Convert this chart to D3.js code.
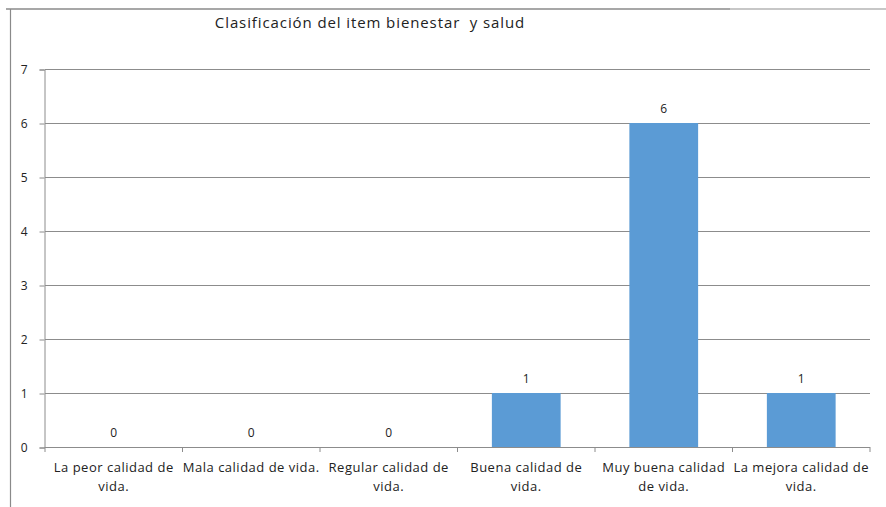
<!DOCTYPE html>
<html>
<head>
<meta charset="utf-8">
<script src="https://cdn.jsdelivr.net/npm/d3@7"></script>
<style>
  body { margin: 0; background: #fff; }
  text { font-family: "Open Sans", "Noto Sans", sans-serif; fill: #222; }
</style>
</head>
<body>
<div id="chart"></div>
<script>
// chart data
var categories = ["La peor calidad de vida.", "Mala calidad de vida.", "Regular calidad de vida.",
  "Buena calidad de vida.", "Muy buena calidad de vida.", "La mejora calidad de vida."];
var tickLines = [["La peor calidad de", "vida."], ["Mala calidad de vida."], ["Regular calidad de", "vida."],
  ["Buena calidad de", "vida."], ["Muy buena calidad", "de vida."], ["La mejora calidad de", "vida."]];
var values = [0, 0, 0, 1, 6, 1];
var yTicks = [0, 1, 2, 3, 4, 5, 6, 7];
var title = "Clasificación del item bienestar  y salud";

var svgWidth = 886;
var svgHeight = 507;

var svg = d3.select("#chart")
  .append("svg")
  .attr("width", svgWidth)
  .attr("height", svgHeight);

// outer frame (top and left only visible)
svg.append("line")
  .attr("x1", 6).attr("x2", 730).attr("y1", 9).attr("y2", 9)
  .attr("stroke", "#8a8a8a").attr("stroke-width", 1.5);
svg.append("line")
  .attr("x1", 730).attr("x2", 886).attr("y1", 9).attr("y2", 9)
  .attr("stroke", "#b5b5b5").attr("stroke-width", 1.5);
svg.append("line")
  .attr("x1", 10.5).attr("x2", 10.5).attr("y1", 9).attr("y2", 507)
  .attr("stroke", "#8a8a8a").attr("stroke-width", 1.2);

// scales
var xScale = d3.scaleBand()
  .domain(categories)
  .range([45, 870])
  .paddingInner(0.5)
  .paddingOuter(0.25);

var yScale = d3.scaleLinear()
  .domain([0, 7])
  .range([447, 69]);

// gridlines
svg.append("g")
  .selectAll("line")
  .data(yTicks.filter(d => d > 0))
  .enter()
  .append("line")
  .attr("x1", 45)
  .attr("x2", 870)
  .attr("y1", d => Math.round(yScale(d)) + 0.5)
  .attr("y2", d => Math.round(yScale(d)) + 0.5)
  .attr("stroke", "#8c8c8c");

// y axis
var yAxis = d3.axisLeft(yScale).tickValues(yTicks).tickFormat(d3.format("d")).tickSize(5).tickPadding(12);
var yG = svg.append("g")
  .attr("transform", "translate(44.5,0.5)")
  .call(yAxis);
yG.select(".domain").attr("stroke", "#8c8c8c");
yG.selectAll(".tick line").attr("stroke", "#8c8c8c");
yG.selectAll(".tick text").attr("font-size", 12).attr("fill", "#222")
  .style("font-family", "'Open Sans', sans-serif");

// bars
svg.selectAll(".bar")
  .data(values)
  .enter()
  .append("rect")
  .attr("class", "bar")
  .attr("x", (d, i) => xScale(categories[i]))
  .attr("width", xScale.bandwidth())
  .attr("y", d => yScale(d))
  .attr("height", d => yScale(0) - yScale(d))
  .attr("fill", "#5b9bd5");

// x axis with ticks at category boundaries
var step = xScale.step();
var boundaries = d3.range(categories.length + 1).map(i => 45 + i * step);
svg.append("line")
  .attr("x1", 45).attr("x2", 870)
  .attr("y1", yScale(0) + 0.5).attr("y2", yScale(0) + 0.5)
  .attr("stroke", "#8c8c8c");
svg.append("g")
  .selectAll("line")
  .data(boundaries)
  .enter()
  .append("line")
  .attr("x1", d => d).attr("x2", d => d)
  .attr("y1", yScale(0)).attr("y2", yScale(0) + 5)
  .attr("stroke", "#8c8c8c");

// category labels
var labels = svg.append("g")
  .selectAll("text")
  .data(tickLines)
  .enter()
  .append("text")
  .attr("text-anchor", "middle")
  .attr("font-size", 13)
  .attr("letter-spacing", 0.5)
  .attr("x", (d, i) => xScale(categories[i]) + xScale.bandwidth() / 2)
  .attr("y", 472);
labels.selectAll("tspan")
  .data(d => d)
  .enter()
  .append("tspan")
  .attr("x", function () { return d3.select(this.parentNode).attr("x"); })
  .attr("dy", (d, i) => i === 0 ? 0 : 19)
  .text(d => d);

// value labels
svg.selectAll(".value")
  .data(values)
  .enter()
  .append("text")
  .attr("class", "value")
  .attr("text-anchor", "middle")
  .attr("font-size", 12)
  .attr("x", (d, i) => xScale(categories[i]) + xScale.bandwidth() / 2)
  .attr("y", d => yScale(d) - 10)
  .text(d => d);

// title
svg.append("text")
  .attr("x", 370)
  .attr("y", 28)
  .attr("text-anchor", "middle")
  .attr("font-size", 15)
  .attr("letter-spacing", 0.9)
  .style("white-space", "pre")
  .text(title);
</script>
</body>
</html>
